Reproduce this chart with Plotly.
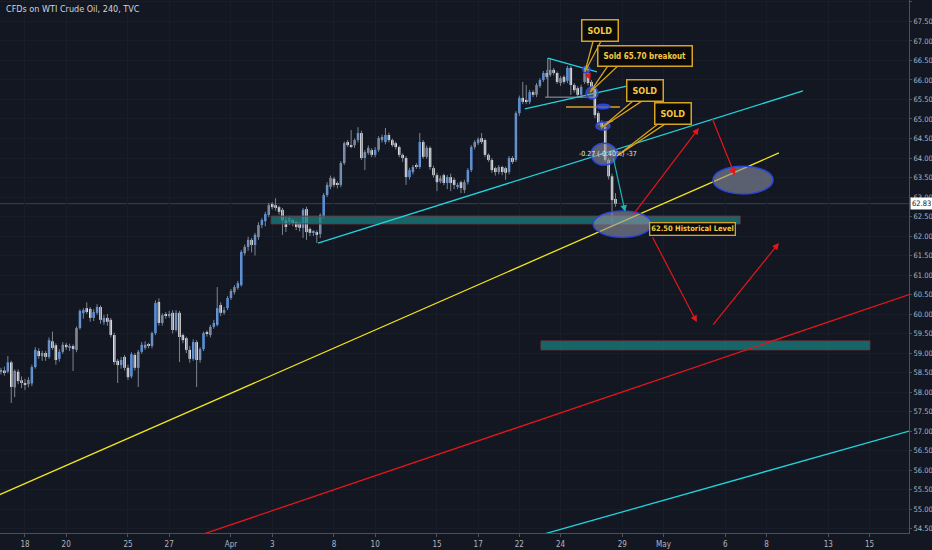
import plotly.graph_objects as go

# ---------------- data (4h bars, bar 0 = first bar of Mar 18) ----------------
bar_start = -7
opens = [58.52, 58.55, 58.52, 58.76, 58.12, 58.52, 58.30, 58.23, 58.20, 58.22,
         58.64, 59.05, 58.92, 59.00, 58.90, 59.30, 59.20, 58.85, 59.03, 59.21,
         59.15, 59.18, 59.08, 59.64, 60.02, 60.15, 60.13, 59.90, 60.03, 60.18,
         59.79, 59.90, 59.85, 59.46, 58.80, 58.69, 58.90, 58.62, 58.40, 58.95,
         58.62, 59.03, 59.13, 59.21, 59.18, 59.51, 60.31, 59.77, 59.97, 59.95,
         60.03, 59.59, 60.03, 59.46, 59.38, 59.08, 58.85, 59.28, 58.82, 59.10,
         59.51, 59.46, 59.67, 59.72, 60.23, 60.03, 60.15, 60.41, 60.56, 60.67,
         60.74, 61.56, 61.72, 61.90, 61.77, 61.97, 62.28, 62.38, 62.54, 62.82,
         62.79, 62.74, 62.67, 62.40, 62.36, 62.41, 62.36, 62.33, 62.21, 62.69,
         62.18, 62.08, 62.10, 62.05, 62.50, 63.05, 63.26, 63.47, 63.36, 63.31,
         63.87, 64.41, 64.33, 64.33, 64.46, 64.64, 64.00, 64.13, 64.20, 64.08,
         64.21, 64.46, 64.41, 64.59, 64.46, 64.38, 64.28, 64.08, 64.00, 63.51,
         63.64, 63.82, 63.77, 64.41, 64.03, 64.26, 63.74, 63.56, 63.40, 63.56,
         63.36, 63.51, 63.44, 63.26, 63.38, 63.18, 63.38, 63.69, 64.28, 64.38,
         64.51, 64.46, 64.08, 63.95, 63.74, 63.64, 63.77, 63.74, 63.64, 64.00,
         63.95, 65.15, 65.54, 65.49, 65.44, 65.69, 65.62, 65.85, 66.00, 66.18,
         66.13, 66.26, 66.18, 65.92, 66.08, 65.98, 66.31, 65.87, 65.79, 65.62,
         65.95, 66.18, 65.95, 65.79, 65.15, 64.90, 64.79, 63.95, 63.53, 62.95]
highs = [58.62, 58.65, 58.92, 58.80, 58.58, 58.58, 58.40, 58.34, 58.38, 58.70,
         59.15, 59.12, 59.06, 59.05, 59.40, 59.55, 59.25, 59.10, 59.28, 59.26,
         59.24, 59.22, 59.68, 60.12, 60.15, 60.30, 60.18, 60.12, 60.25, 60.22,
         59.98, 60.00, 59.90, 59.52, 58.85, 58.90, 58.95, 58.70, 59.02, 59.00,
         59.08, 59.28, 59.30, 59.26, 59.55, 60.35, 60.40, 60.02, 60.05, 60.08,
         60.10, 60.10, 60.08, 59.50, 59.42, 59.18, 59.35, 59.33, 59.15, 59.55,
         59.58, 59.72, 59.85, 60.69, 60.30, 60.18, 60.46, 60.64, 60.74, 60.85,
         61.64, 61.78, 61.98, 61.95, 62.08, 62.35, 62.46, 62.62, 62.85, 62.87,
         62.97, 62.78, 62.72, 62.50, 62.52, 62.45, 62.40, 62.38, 62.72, 62.75,
         62.22, 62.15, 62.15, 62.58, 63.10, 63.38, 63.55, 63.52, 63.40, 63.92,
         64.42, 64.46, 64.72, 64.50, 64.79, 64.70, 64.20, 64.32, 64.25, 64.28,
         64.56, 64.60, 64.77, 64.65, 64.50, 64.42, 64.32, 64.12, 64.05, 63.75,
         63.82, 63.87, 64.64, 64.46, 64.32, 64.30, 63.80, 63.62, 63.55, 63.60,
         63.56, 63.60, 63.50, 63.36, 63.42, 63.44, 63.74, 64.33, 64.46, 64.53,
         64.64, 64.50, 64.12, 64.00, 63.78, 63.82, 63.80, 63.78, 64.05, 64.05,
         65.20, 65.60, 65.95, 65.87, 65.75, 65.74, 65.92, 66.05, 66.23, 66.26,
         66.56, 66.31, 66.22, 66.10, 66.12, 66.36, 66.36, 65.92, 65.84, 65.88,
         66.33, 66.26, 66.00, 65.84, 65.20, 64.97, 64.85, 64.00, 63.60, 63.10]
lows = [58.45, 58.42, 58.48, 57.72, 57.87, 58.20, 58.10, 58.05, 58.12, 58.15,
        58.60, 58.85, 58.80, 58.80, 58.85, 59.08, 58.70, 58.78, 58.98, 59.08,
        59.05, 58.54, 59.02, 59.60, 59.88, 60.00, 59.80, 59.82, 59.98, 59.75,
        59.72, 59.70, 59.40, 58.70, 58.23, 58.60, 58.55, 58.31, 58.35, 58.55,
        58.13, 58.98, 59.08, 59.12, 59.12, 59.46, 59.70, 59.70, 59.88, 59.90,
        59.50, 59.55, 58.77, 59.25, 59.00, 58.75, 58.80, 58.13, 58.75, 59.05,
        59.42, 59.40, 59.62, 59.68, 59.95, 59.98, 60.10, 60.36, 60.50, 60.62,
        60.70, 61.50, 61.62, 61.58, 61.50, 61.90, 62.20, 62.25, 62.48, 62.68,
        62.65, 62.55, 62.03, 62.10, 62.28, 62.25, 62.15, 62.12, 61.95, 61.90,
        62.00, 62.00, 61.82, 61.95, 62.45, 63.00, 63.20, 63.25, 63.22, 63.25,
        63.82, 64.28, 64.25, 64.26, 64.40, 63.95, 63.69, 64.08, 64.02, 64.02,
        64.15, 64.40, 64.35, 64.40, 64.28, 64.22, 64.02, 63.90, 63.31, 63.45,
        63.58, 63.72, 63.72, 63.98, 63.98, 63.70, 63.50, 63.15, 63.35, 63.30,
        63.20, 63.15, 63.20, 63.20, 63.10, 63.10, 63.32, 63.64, 64.22, 64.33,
        64.36, 64.02, 63.90, 63.62, 63.55, 63.58, 63.56, 63.44, 63.58, 63.85,
        63.90, 65.08, 65.38, 65.38, 65.38, 65.56, 65.56, 65.80, 65.95, 66.02,
        66.08, 66.12, 65.90, 65.85, 65.90, 65.92, 65.62, 65.68, 65.55, 65.55,
        65.90, 65.86, 65.72, 65.02, 64.85, 64.72, 63.90, 63.45, 62.25, 62.75]
closes = [58.55, 58.50, 58.76, 58.13, 58.54, 58.28, 58.23, 58.20, 58.31, 58.64,
          59.08, 58.92, 59.00, 58.90, 59.33, 59.13, 58.82, 59.03, 59.21, 59.15,
          59.18, 59.10, 59.64, 60.08, 60.10, 60.05, 59.90, 60.05, 60.18, 59.85,
          59.90, 59.80, 59.46, 58.77, 58.69, 58.82, 58.62, 58.38, 58.97, 58.62,
          59.03, 59.21, 59.21, 59.18, 59.51, 60.28, 59.77, 59.97, 59.95, 60.00,
          59.59, 60.03, 59.41, 59.33, 59.08, 58.85, 59.28, 58.82, 59.10, 59.51,
          59.49, 59.67, 59.77, 60.15, 60.03, 60.10, 60.41, 60.59, 60.69, 60.79,
          61.59, 61.72, 61.90, 61.77, 62.03, 62.28, 62.41, 62.56, 62.79, 62.74,
          62.72, 62.62, 62.40, 62.23, 62.46, 62.33, 62.23, 62.21, 62.67, 62.10,
          62.08, 62.10, 62.03, 62.54, 63.05, 63.31, 63.49, 63.31, 63.31, 63.87,
          64.38, 64.33, 64.30, 64.46, 64.64, 64.00, 64.15, 64.26, 64.08, 64.21,
          64.51, 64.54, 64.59, 64.46, 64.33, 64.28, 64.08, 64.00, 63.51, 63.69,
          63.77, 63.77, 64.41, 64.03, 64.26, 63.77, 63.56, 63.38, 63.48, 63.36,
          63.51, 63.36, 63.31, 63.31, 63.23, 63.38, 63.69, 64.28, 64.41, 64.48,
          64.41, 64.08, 63.95, 63.69, 63.64, 63.77, 63.64, 63.62, 64.00, 63.90,
          65.15, 65.54, 65.44, 65.44, 65.69, 65.62, 65.87, 66.00, 66.18, 66.08,
          66.26, 66.18, 65.95, 66.05, 65.95, 66.31, 65.87, 65.74, 65.62, 65.82,
          66.18, 65.92, 65.79, 65.10, 64.90, 64.79, 63.95, 63.53, 62.92, 62.83]
bars = list(range(bar_start, bar_start + len(closes)))
last_price = 62.83

day_ticks = [0, 12, 30, 42, 60, 72, 90, 102, 120, 132, 144, 156, 174, 186, 204, 216, 234, 246]
day_labels = ["18", "20", "25", "27", "Apr", "3", "8", "10", "15", "17",
              "22", "24", "29", "May", "6", "8", "13", "15"]

# ---------------- drawings (bar index, price) ----------------
trend_lines = [  # (x0, y0, x1, y1, color, width)
    (-12, 55.19, 219.6, 64.13, "#f2e51d", 1.3),      # yellow
    (48, 54.24, 262, 60.63, "#e3161b", 1.3),         # red
    (148, 54.28, 262, 57.11, "#22d3dc", 1.3),        # lower cyan
    (85.35, 61.82, 226.6, 65.72, "#22d3dc", 1.3),    # upper cyan
    (152.3, 66.56, 166.6, 66.21, "#22d3dc", 1.3),    # triangle top
    (145.6, 65.26, 175.6, 65.85, "#22d3dc", 1.3),    # triangle bottom
    (166.6, 64.87, 171.3, 64.95, "#22d3dc", 1.3),    # small cyan
    (152.3, 66.56, 152.3, 65.56, "#9aa0ad", 1.0),    # vertical
    (151.5, 65.56, 166.6, 65.56, "#9aa0ad", 1.0),    # horizontal gray
    (157.6, 65.31, 173.3, 65.31, "#d9a227", 1.5),    # orange level
]
zones = [  # (x0, x1, y0, y1)
    (71.7, 208.3, 62.31, 62.51),
    (150.3, 246.1, 59.08, 59.31),
]
ellipses = [  # (x0, x1, y0, y1, fill)
    (162.5, 164.6, 66.18, 66.36, "rgba(140,145,165,0.35)"),
    (163.4, 166.9, 65.51, 65.82, "rgba(140,145,165,0.45)"),
    (166.6, 170.4, 65.26, 65.38, "rgba(60,85,220,0.75)"),
    (166.3, 170.4, 64.72, 64.92, "rgba(140,145,165,0.45)"),
    (164.9, 172.4, 63.82, 64.38, "rgba(140,145,165,0.6)"),
    (165.5, 182.6, 61.97, 62.64, "rgba(140,145,165,0.6)"),
    (200.4, 217.9, 63.08, 63.79, "rgba(140,145,165,0.6)"),
]
arrows = [  # (tail_x, tail_y, head_x, head_y, color)
    (177.1, 62.54, 196.3, 64.77, "#e3161b"),
    (200.1, 65.03, 206.8, 63.56, "#e3161b"),
    (182.6, 62.00, 195.7, 59.79, "#e3161b"),
    (200.1, 59.69, 219.6, 61.82, "#e3161b"),
    (171.3, 64.03, 174.8, 62.62, "#1fb5b0"),
    (163.7, 66.20, 164.7, 66.00, "#e3161b"),
]
callouts = [  # (text, cx, cy, base_x0, base_x1, base_y, tip_x, tip_y, size, pad)
    ("SOLD", 167.6, 67.28, 165.5, 167.8, 67.0, 163.1, 66.21, 9, 5),
    ("Sold 65.70 breakout", 180.6, 66.62, 169.8, 172.7, 66.36, 164.6, 65.69, 8, 5),
    ("SOLD", 180.6, 65.72, 177.1, 179.7, 65.46, 168.1, 64.79, 9, 5),
    ("SOLD", 188.8, 65.13, 184.4, 186.4, 64.87, 172.4, 64.05, 9, 5),
]

FONT = "Liberation Sans Narrow, DejaVu Sans Condensed, Roboto Condensed, Arial Narrow, sans-serif"
BG = "#131722"
GOLD_LINE = "#d6a322"
GOLD_TEXT = "#f5c842"

body_base = [min(o, c) for o, c in zip(opens, closes)]
body_size = [max(abs(c - o), 0.025) for o, c in zip(opens, closes)]
body_color = ["#5f9cec" if c >= o else "#ffffff" for o, c in zip(opens, closes)]
wick_x, wick_y = [], []
for b, h, l in zip(bars, highs, lows):
    wick_x += [b, b, None]
    wick_y += [l, h, None]

fig = go.Figure()
fig.add_trace(go.Scatter(x=wick_x, y=wick_y, mode="lines",
                         line=dict(color="#7f8491", width=1),
                         hoverinfo="skip", showlegend=False))
fig.add_trace(go.Bar(
    x=bars, y=body_size, base=body_base, width=0.72,
    marker=dict(color=body_color, line=dict(width=0)),
    hoverinfo="skip", showlegend=False,
))

shapes = []
shapes.append(dict(type="line", xref="paper", yref="y", x0=0, x1=1, y0=last_price, y1=last_price,
                   line=dict(color="#3b3f4b", width=1), layer="below"))
for x0, x1, y0, y1 in zones:
    shapes.append(dict(type="rect", xref="x", yref="y", x0=x0, x1=x1, y0=y0, y1=y1,
                       fillcolor="rgba(26,128,128,0.75)", line=dict(color="#6a3a3f", width=1)))
for x0, y0, x1, y1, c, w in trend_lines:
    shapes.append(dict(type="line", xref="x", yref="y", x0=x0, y0=y0, x1=x1, y1=y1,
                       line=dict(color=c, width=w)))
for x0, x1, y0, y1, f in ellipses:
    shapes.append(dict(type="circle", xref="x", yref="y", x0=x0, x1=x1, y0=y0, y1=y1,
                       fillcolor=f, line=dict(color="#2d46d8", width=1.5)))
for (_t, _cx, _cy, bx0, bx1, by, tx, ty, _s, _p) in callouts:
    shapes.append(dict(type="path", xref="x", yref="y",
                       path=f"M {bx0},{by} L {tx},{ty} L {bx1},{by} Z",
                       fillcolor="#0b0b0d", line=dict(color=GOLD_LINE, width=1.3)))

annotations = []
annotations.append(dict(text="CFDs on WTI Crude Oil, 240, TVC", xref="paper", yref="paper",
                        x=0.004, y=1, yshift=-2, xanchor="left", yanchor="top", showarrow=False,
                        font=dict(family=FONT, size=9, color="#d1d4dc")))
for tx, ty, hx, hy, c in arrows:
    annotations.append(dict(x=hx, y=hy, ax=tx, ay=ty, xref="x", yref="y", axref="x", ayref="y",
                            text="", showarrow=True, arrowhead=2, arrowsize=1.1, arrowwidth=1.2,
                            arrowcolor=c))
for (t, cx, cy, *_rest, s, p) in callouts:
    annotations.append(dict(text=f"<b>{t}</b>", x=cx, y=cy, xref="x", yref="y", showarrow=False,
                            bgcolor="#0b0b0d", bordercolor=GOLD_LINE,
                            borderwidth=1.5, borderpad=p,
                            font=dict(family=FONT, size=s, color=GOLD_TEXT)))
annotations.append(dict(text="<b>62.50 Historical Level</b>", x=194.4, y=62.19, xref="x", yref="y",
                        showarrow=False, bgcolor="#0b0b0d", bordercolor=GOLD_LINE,
                        borderwidth=1.3, borderpad=1,
                        font=dict(family=FONT, size=7.5, color=GOLD_TEXT)))
annotations.append(dict(text="-0.27 (-0.40%) -37", x=169.8, y=64.10, xref="x", yref="y",
                        showarrow=False, font=dict(family=FONT, size=7, color="#e8e8ea")))
annotations.append(dict(text=f"{last_price:.2f}", xref="paper", yref="y", x=1, y=last_price,
                        xanchor="left", xshift=1, showarrow=False, bgcolor="#ffffff",
                        borderpad=1, font=dict(family=FONT, size=7.5, color="#131722")))

fig.update_layout(
    width=932, height=550, autosize=False,
    margin=dict(l=0, r=23, t=0, b=17, pad=0),
    paper_bgcolor=BG, plot_bgcolor=BG,
    showlegend=False, barmode="overlay",
    shapes=shapes, annotations=annotations,
    xaxis=dict(range=[-7.28, 257.5], tickvals=day_ticks, ticktext=day_labels,
               showgrid=True, gridcolor="#191d29", gridwidth=1, zeroline=False,
               showline=True, linecolor="#4d505b", linewidth=1,
               ticks="outside", ticklen=3, tickcolor="#4d505b",
               tickfont=dict(family=FONT, size=8, color="#b2b5be"),
               fixedrange=True, automargin=False),
    yaxis=dict(range=[54.385, 68.051], side="right", dtick=0.5, tickformat=".2f",
               showgrid=True, gridcolor="#191d29", gridwidth=1, zeroline=False,
               showline=True, linecolor="#4d505b", linewidth=1,
               ticks="outside", ticklen=2, tickcolor="#4d505b",
               tickfont=dict(family=FONT, size=7.5, color="#b2b5be"),
               fixedrange=True, automargin=False),
)

fig.write_html("out.html", config={"displayModeBar": False},
               post_script="document.body.style.margin='0px';document.body.style.overflow='hidden';")
